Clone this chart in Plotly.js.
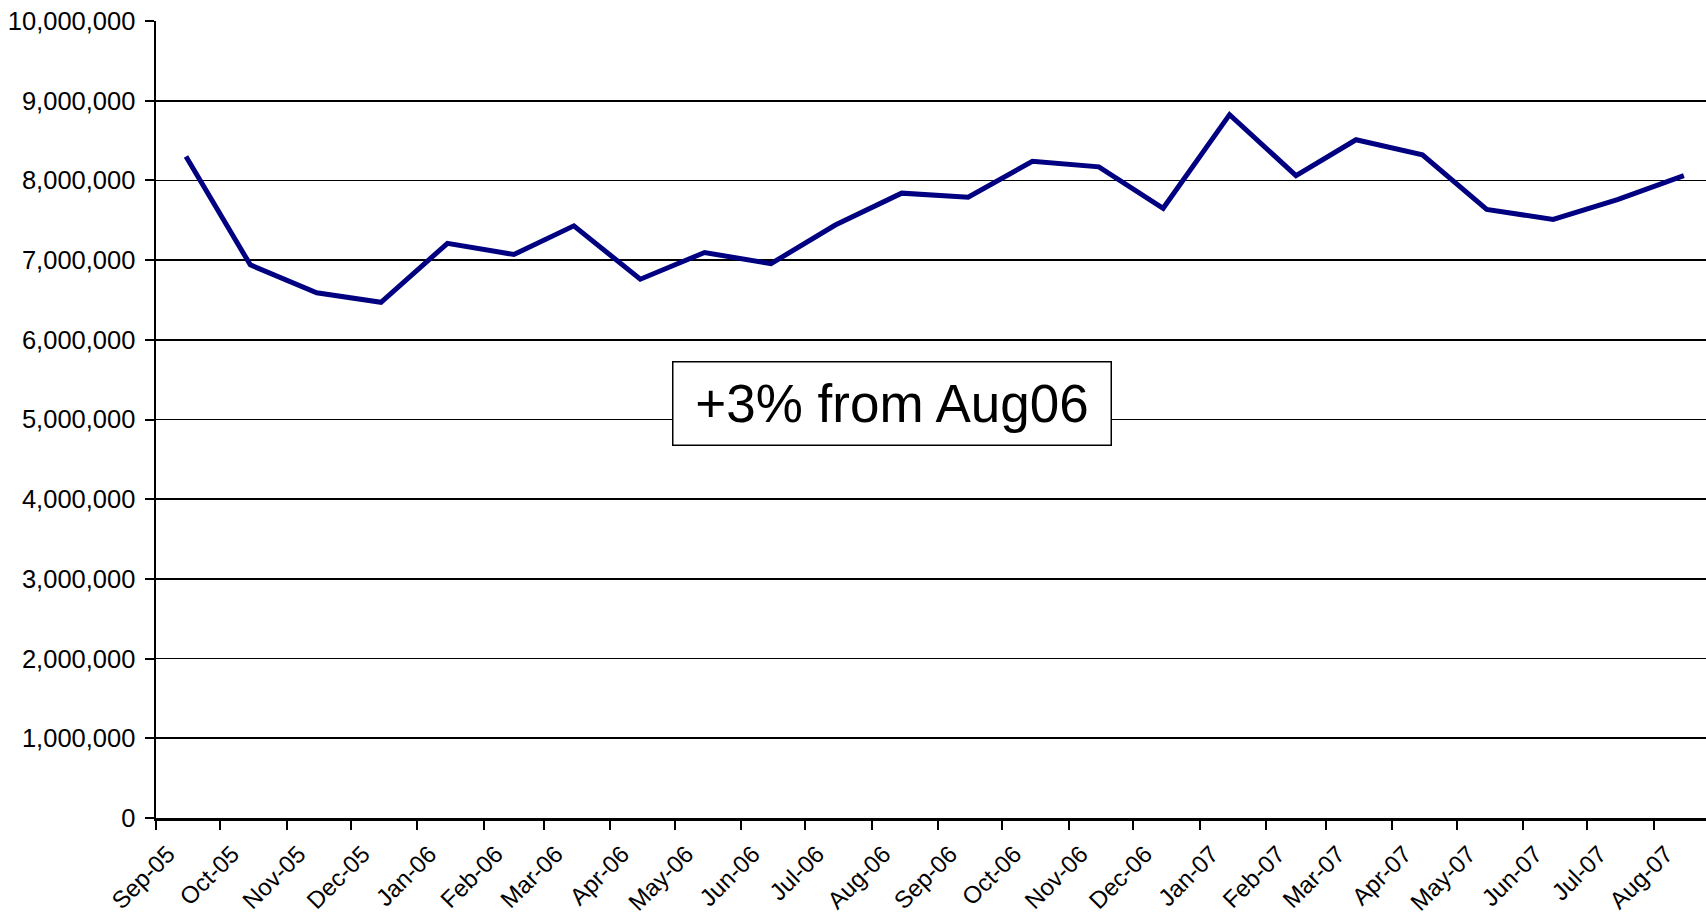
<!DOCTYPE html>
<html>
<head>
<meta charset="utf-8">
<script src="https://cdn.plot.ly/plotly-3.0.1.min.js"></script>
<style>html,body{margin:0;padding:0;background:#fff;}#chart{width:1706px;height:918px;}</style>
</head>
<body>
<div id="chart"></div>
<script>
// Monthly data points (mid-month), Sep-05 .. Aug-07
const dates = ['2005-09-15','2005-10-15','2005-11-15','2005-12-15','2006-01-15','2006-02-15',
  '2006-03-15','2006-04-15','2006-05-15','2006-06-15','2006-07-15','2006-08-15',
  '2006-09-15','2006-10-15','2006-11-15','2006-12-15','2007-01-15','2007-02-15',
  '2007-03-15','2007-04-15','2007-05-15','2007-06-15','2007-07-15','2007-08-15'];
const values = [8300000, 6940000, 6590000, 6470000, 7210000, 7070000,
  7430000, 6760000, 7095000, 6955000, 7440000, 7840000,
  7790000, 8240000, 8170000, 7650000, 8825000, 8060000,
  8510000, 8320000, 7635000, 7510000, 7760000, 8060000];
const annotationText = '+3% from Aug06';

const font = "'Liberation Sans', Arial, sans-serif";

const trace = {
  x: dates, y: values, type: 'scatter', mode: 'lines',
  line: {color: '#000080', width: 5},
  hoverinfo: 'x+y'
};

const layout = {
  width: 1706, height: 918,
  margin: {l: 156, r: 0, t: 21, b: 100, pad: 0},
  paper_bgcolor: '#fff', plot_bgcolor: '#fff',
  showlegend: false,
  font: {family: font, color: '#000', size: 24},
  xaxis: {
    type: 'date',
    range: ['2005-09-01', '2007-08-25 08:00'],
    tick0: '2005-09-01', dtick: 'M1', tickformat: '%b-%y',
    tickangle: -45,
    ticks: 'outside', ticklen: 9, tickwidth: 2, tickcolor: '#000',
    ticklabelshift: 12, ticklabelstandoff: 1,
    showline: true, linecolor: '#000', linewidth: 2.5,
    showgrid: false, zeroline: false,
    tickfont: {family: font, size: 24, color: '#000'}
  },
  yaxis: {
    range: [0, 10000000],
    dtick: 1000000, tick0: 0, tickformat: ',d',
    ticks: 'outside', ticklen: 9, tickwidth: 2, tickcolor: '#000',
    ticklabelstandoff: 4,
    showline: true, linecolor: '#000', linewidth: 2.5,
    showgrid: true, gridcolor: '#000', gridwidth: 1.7,
    zeroline: false,
    tickfont: {family: font, size: 25.5, color: '#000'}
  },
  annotations: [{
    xref: 'paper', yref: 'paper',
    x: 0.4748, y: 0.5195, xanchor: 'center', yanchor: 'middle',
    text: annotationText, showarrow: false,
    font: {family: font, size: 53, color: '#000'},
    bgcolor: '#fff', bordercolor: '#000', borderwidth: 1.5, borderpad: 0,
    width: 437, height: 82
  }]
};

Plotly.newPlot('chart', [trace], layout, {staticPlot: true, displayModeBar: false});
</script>
</body>
</html>
